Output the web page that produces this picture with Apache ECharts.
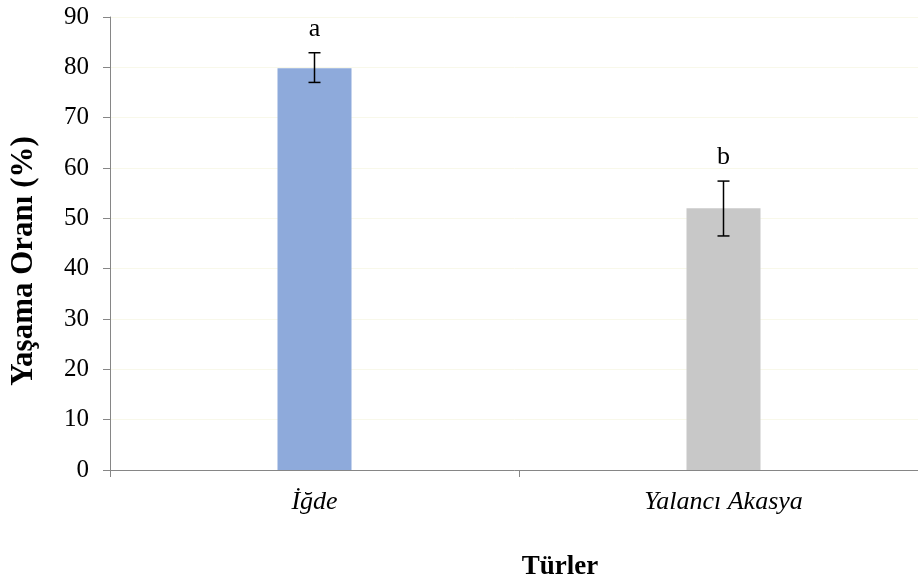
<!DOCTYPE html>
<html>
<head>
<meta charset="utf-8">
<script src="https://cdn.jsdelivr.net/npm/echarts@6/dist/echarts.min.js"></script>
<style>html,body{margin:0;padding:0;background:#fff}#c{width:918px;height:583px}</style>
</head>
<body>
<div id="c"></div>
<script>
var categories = ['İğde', 'Yalancı Akasya'];
var values = [79.8, 52.0];
var errLow = [77.0, 46.5];
var errHigh = [82.9, 57.4];
var letters = ['a', 'b'];
var barColors = ['#8eaadb', '#c8c8c8'];
var yTicks = { min: 0, max: 90, interval: 10 };

var FONT = '"Liberation Serif", "Times New Roman", serif';
var chart = echarts.init(document.getElementById('c'));
var errData = categories.map(function (c, i) { return [i, errLow[i], errHigh[i], letters[i]]; });

chart.setOption({
  animation: false,
  backgroundColor: '#fff',
  grid: { left: 110, top: 17, bottom: 113, width: 818, containLabel: false, outerBoundsMode: 'none' },
  xAxis: {
    type: 'category',
    data: categories,
    axisLine: { lineStyle: { color: '#868686', width: 1 } },
    axisTick: { show: true, length: 7, lineStyle: { color: '#868686' } },
    axisLabel: { fontFamily: FONT, fontStyle: 'italic', fontSize: 26, color: '#000', margin: 19 },
    splitLine: { show: false }
  },
  yAxis: {
    type: 'value',
    min: yTicks.min, max: yTicks.max, interval: yTicks.interval,
    axisLine: { show: true, lineStyle: { color: '#868686', width: 1 } },
    axisTick: { show: true, length: 7, lineStyle: { color: '#868686' } },
    axisLabel: { fontFamily: FONT, fontSize: 25, color: '#000', margin: 21 },
    splitLine: { show: true, lineStyle: { color: '#f8f8ea', width: 1 } }
  },
  graphic: [
    { type: 'text', x: 24, y: 261, rotation: Math.PI / 2,
      style: { text: 'Yaşama Oranı (%)', font: 'bold 31px ' + FONT, fill: '#000', align: 'center', verticalAlign: 'middle' } },
    { type: 'text', x: 560, y: 567,
      style: { text: 'Türler', font: 'bold 27px ' + FONT, fill: '#000', align: 'center', verticalAlign: 'middle' } }
  ],
  series: [
    {
      type: 'bar',
      barWidth: 74,
      data: values.map(function (v, i) { return { value: v, itemStyle: { color: barColors[i] } }; }),
      z: 2
    },
    {
      type: 'custom',
      z: 5,
      data: errData,
      renderItem: function (params, api) {
        var x = api.value(0);
        var lo = api.coord([x, api.value(1)]);
        var hi = api.coord([x, api.value(2)]);
        var hw = 6;
        var st = { stroke: '#000', lineWidth: 1.5 };
        return {
          type: 'group',
          children: [
            { type: 'line', shape: { x1: hi[0], y1: hi[1], x2: lo[0], y2: lo[1] }, style: st },
            { type: 'line', shape: { x1: hi[0] - hw, y1: hi[1], x2: hi[0] + hw, y2: hi[1] }, style: st },
            { type: 'line', shape: { x1: lo[0] - hw, y1: lo[1], x2: lo[0] + hw, y2: lo[1] }, style: st },
            { type: 'text', x: hi[0], y: hi[1] - 24,
              style: { text: api.value(3), font: '26px ' + FONT, fill: '#000', align: 'center', verticalAlign: 'middle' } }
          ]
        };
      }
    }
  ]
});
</script>
</body>
</html>
